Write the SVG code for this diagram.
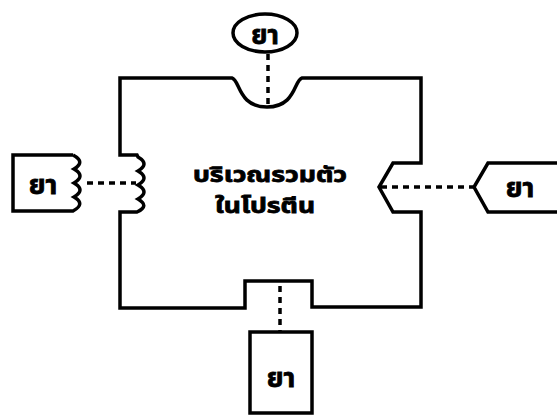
<svg xmlns="http://www.w3.org/2000/svg" width="557" height="416" viewBox="0 0 557 416">
<style>
.s{fill:none;stroke:#000;stroke-width:3.5;stroke-linejoin:miter}
.d{fill:none;stroke:#000;stroke-width:3.5;stroke-dasharray:6 5}
.t{font-family:"Noto Sans Thai","Noto Sans","DejaVu Sans",sans-serif;font-weight:bold;fill:#000;stroke:#000;stroke-width:0.8;text-anchor:middle}
</style>
<rect width="557" height="416" fill="#fff"/>
<g id="protein">
<path class="s" d="M120,308 L120,212 L137,212 Q150,206 138,199 Q150,192 138,185 Q150,178 138,171 Q150,164 138,157 L137,155 L120,155 L120,78 L232,78 C240,80 238,107 267,107 C296,107 294,80 302,78 L421,78 L421,163 L393,163 L379,187 L393,212 L421,212 L421,307 L312,307 L312,281 L245,281 L245,308 Z"/>
<text class="t" x="270" y="182" font-size="21" textLength="154" lengthAdjust="spacingAndGlyphs">บริเวณรวมตัว</text>
<text class="t" x="265" y="213" font-size="21" textLength="100" lengthAdjust="spacingAndGlyphs">ในโปรตีน</text>
</g>
<g id="drug-top">
<ellipse class="s" cx="265" cy="33" rx="32" ry="19"/>
<text class="t" x="265" y="44" font-size="26">ยา</text>
</g>
<g id="drug-left">
<path class="s" d="M73,155 L13,155 L13,211 L73,211 Q86,204 74,197 Q86,190 74,183 Q86,176 74,169 Q86,162 73,155"/>
<text class="t" x="43" y="194" font-size="27">ยา</text>
</g>
<g id="drug-right">
<path class="s" d="M560,163 L488,163 L474,187 L488,212 L560,212"/>
<text class="t" x="520" y="197" font-size="27">ยา</text>
</g>
<g id="drug-bottom">
<rect class="s" x="250" y="332" width="62" height="81"/>
<text class="t" x="281" y="387" font-size="27">ยา</text>
</g>
<g id="connectors">
<line class="d" x1="268" y1="54" x2="268" y2="106"/>
<line class="d" x1="87" y1="183" x2="136" y2="183"/>
<line class="d" x1="381" y1="187" x2="473" y2="187"/>
<line class="d" x1="280" y1="286" x2="280" y2="331"/>
</g>
</svg>
